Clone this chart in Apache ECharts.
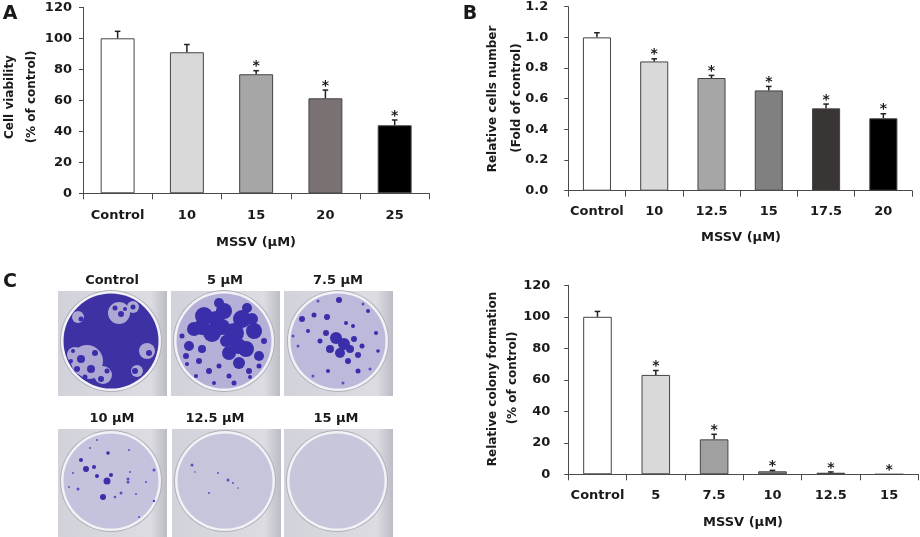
<!DOCTYPE html>
<html><head><meta charset="utf-8">
<script src="https://cdn.jsdelivr.net/npm/echarts@6/dist/echarts.min.js"></script>
<style>html,body{margin:0;padding:0;background:#fff}#c{width:920px;height:537px}</style>
</head><body><div id="c"></div>
<script>
// ---- Panel A: cell viability ----
const catA = ['Control', '10', '15', '20', '25'];
const valA = [100, 91, 76.8, 61.3, 43.9];
const errA = [4.5, 5, 2.3, 5.3, 3.4];
const sigA = [0, 0, 1, 1, 1];
const colA = ['#ffffff', '#d9d9d9', '#a6a6a6', '#7a7272', '#000000'];
const ticksA = { min: 0, max: 120, interval: 20 };

// ---- Panel B: relative cell number ----
const catB = ['Control', '10', '12.5', '15', '17.5', '20'];
const valB = [1.0, 0.843, 0.735, 0.654, 0.537, 0.472];
const errB = [0.03, 0.017, 0.017, 0.026, 0.028, 0.03];
const sigB = [0, 1, 1, 1, 1, 1];
const colB = ['#ffffff', '#d9d9d9', '#a6a6a6', '#808080', '#3a3535', '#000000'];
const ticksB = { min: 0, max: 1.2, interval: 0.2 };

// ---- Panel C: relative colony formation ----
const catC = ['Control', '5', '7.5', '10', '12.5', '15'];
const valC = [100, 63.1, 22.2, 1.9, 1.0, 0];
const errC = [3.4, 2.8, 3.2, 0.6, 0.5, 0];
const sigC = [0, 1, 1, 1, 1, 1];
const colC = ['#ffffff', '#d9d9d9', '#a0a0a0', '#888888', '#333333', '#000000'];
const ticksC = { min: 0, max: 120, interval: 20 };

// ---- Colony photo labels ----
const photoLabels = ['Control', '5 μM', '7.5 μM', '10 μM', '12.5 μM', '15 μM'];

const F = 'DejaVu Sans';
const TXT = '#1a1a1a';
const AX = '#4a4a4a';

function xAx(gi, cats, margin) {
  return {
    type: 'category', gridIndex: gi, data: cats,
    axisLine: { lineStyle: { color: AX, width: 1 } },
    axisTick: { show: true, length: 6, alignWithLabel: false, lineStyle: { color: AX } },
    axisLabel: { fontFamily: F, fontWeight: 'bold', fontSize: 13, color: TXT, margin: margin, interval: 0 },
    splitLine: { show: false }
  };
}
function yAx(gi, t, fmt, margin) {
  return {
    type: 'value', gridIndex: gi, min: t.min, max: t.max, interval: t.interval,
    axisLine: { show: true, lineStyle: { color: AX, width: 1 } },
    axisTick: { show: true, length: 4, lineStyle: { color: AX } },
    axisLabel: { fontFamily: F, fontWeight: 'bold', fontSize: 13, color: TXT, margin: margin, formatter: fmt },
    splitLine: { show: false }
  };
}
function barSeries(gi, vals, cols) {
  return {
    type: 'bar', xAxisIndex: gi, yAxisIndex: gi, barWidth: '49%',
    data: vals.map((v, i) => ({ value: v, itemStyle: { color: cols[i], borderColor: '#444', borderWidth: 1 } })),
    animation: false
  };
}
function errSeries(gi, vals, errs, sigs) {
  return {
    type: 'custom', xAxisIndex: gi, yAxisIndex: gi, z: 5, animation: false,
    data: vals.map((v, i) => [i, v, errs[i], sigs[i]]),
    encode: { x: 0, y: 1 },
    renderItem: function (params, api) {
      const i = api.value(0), v = api.value(1), e = api.value(2), s = api.value(3);
      const base = api.coord([i, v]);
      const top = api.coord([i, v + e]);
      const ch = [];
      if (e > 0) {
        ch.push({ type: 'line', shape: { x1: base[0], y1: base[1], x2: top[0], y2: top[1] }, style: { stroke: '#222', lineWidth: 1.5 } });
        ch.push({ type: 'line', shape: { x1: top[0] - 2.8, y1: top[1], x2: top[0] + 2.8, y2: top[1] }, style: { stroke: '#222', lineWidth: 1.5 } });
      }
      if (s) {
        ch.push({ type: 'text', x: top[0], y: top[1] + 3, style: { text: '*', fontFamily: F, fontWeight: 'bold', fontSize: 14, fill: TXT, align: 'center', verticalAlign: 'bottom', textAlign: 'center', textVerticalAlign: 'bottom' } });
      }
      return { type: 'group', children: ch };
    }
  };
}

function txt(x, y, text, size, rot, family) {
  return {
    type: 'text', x: x, y: y, rotation: rot || 0, silent: true,
    style: { text: text, fontFamily: family || F, fontWeight: 'bold', fontSize: size, fill: TXT,
      align: 'center', verticalAlign: 'middle', textAlign: 'center', textVerticalAlign: 'middle' }
  };
}

// ---- photo panel (decorative drawing of the colony plates) ----
const dishes = [
  { lx: 112, ly: 281, px: 58, py: 291, ph: 105, cx: 111, cy: 341, fill: '#3d31a4',
    patches: [[-24, 20, 16], [-22, 26, 12], [-36, 14, 8], [-8, 34, 9], [8, -28, 11], [22, -34, 6], [36, 10, 8], [-33, -24, 6], [26, 30, 6]],
    dots: [[-30, 18, 4], [-20, 28, 4], [-34, 28, 3], [-16, 12, 3], [10, -27, 3], [4, -33, 2.5], [38, 12, 3], [-10, 38, 3], [-4, 30, 2.5], [24, 30, 3], [-30, -22, 2.5], [-38, 10, 2], [14, -32, 2], [22, -34, 2.5], [-26, 36, 2.5], [-40, 20, 2]] },
  { lx: 225, ly: 281, px: 171, py: 291, ph: 105, cx: 224, cy: 341, fill: '#b4b0d8',
    patches: [],
    dots: [[-20, -25, 9], [0, -30, 8], [18, -22, 9], [30, -10, 8], [10, -8, 10], [-12, -8, 9], [-30, -12, 7], [22, 8, 8], [5, 12, 7], [-5, -38, 5], [23, -33, 5], [-35, 5, 5], [35, 15, 5], [15, 22, 6], [-38, 15, 3], [-25, 20, 3], [-15, 30, 3], [-5, 25, 2.5], [5, 35, 2.5], [25, 30, 3], [40, 0, 3], [-42, -5, 2.5], [26, 36, 2], [-28, 35, 2], [-10, 42, 2], [10, 42, 2.5], [35, 25, 2.5], [-37, 23, 2], [-22, 8, 4], [2, 0, 6], [-22, -14, 8], [28, -22, 6], [-8, -22, 8], [14, 5, 8], [-2, -14, 8]] },
  { lx: 338, ly: 281, px: 284, py: 291, ph: 105, cx: 338, cy: 341, fill: '#bcb9db',
    patches: [],
    dots: [[-2, -3, 6], [6, 3, 6], [12, 8, 4], [-8, 8, 4], [2, 12, 5], [16, -2, 3], [-12, -8, 3], [20, 14, 3], [10, 20, 3], [-18, 0, 2.5], [24, 5, 2.5], [-36, -22, 3], [-11, -24, 3], [1, -41, 3], [-30, -10, 2], [30, -30, 2], [38, -8, 2], [40, 10, 1.8], [-40, 5, 1.5], [-45, -5, 1.5], [20, 30, 2.5], [-10, 30, 2], [32, 28, 1.5], [-25, 35, 1.5], [5, 42, 1.5], [25, -37, 1.5], [-20, -40, 1.5], [15, -15, 2], [-24, -26, 2.5], [8, -18, 2]] },
  { lx: 112, ly: 419, px: 58, py: 429, ph: 108, cx: 111, cy: 481, fill: '#c4c2dc',
    patches: [],
    dots: [[-25, -12, 3], [-4, 0, 3.5], [-8, 16, 3], [-30, -21, 2], [-17, -14, 2], [-14, -5, 2], [-3, -28, 1.8], [0, -6, 2], [17, 1, 1.5], [17, -2, 1.5], [10, 12, 1.5], [4, 16, 1.3], [43, -11, 1.5], [43, 20, 1.3], [-33, 8, 1.5], [-42, 6, 1], [-21, -33, 1], [-14, -41, 1], [18, -31, 1], [19, -9, 1], [35, 1, 1], [25, 13, 1], [28, 36, 1], [-38, -8, 1]] },
  { lx: 215, ly: 419, px: 172, py: 429, ph: 108, cx: 225, cy: 481, fill: '#c6c5db',
    patches: [],
    dots: [[-33, -16, 1.5], [-7, -8, 1], [3, -1, 1.5], [8, 2, 1], [-16, 12, 1], [13, 7, 0.8], [-30, -9, 0.8]] },
  { lx: 336, ly: 419, px: 284, py: 429, ph: 108, cx: 337, cy: 481, fill: '#c7c6da',
    patches: [], dots: [] }
];

const graphics = [];
graphics.push(txt(10, 14, 'A', 19));
graphics.push(txt(470, 14, 'B', 19));
graphics.push(txt(10, 282, 'C', 19));
// axis names
graphics.push(txt(10, 97, 'Cell viability', 12, Math.PI / 2));
graphics.push(txt(32, 97, '(% of control)', 12, Math.PI / 2));
graphics.push(txt(256, 243, 'MSSV (μM)', 13));
graphics.push(txt(493, 99, 'Relative cells number', 12, Math.PI / 2));
graphics.push(txt(517, 98, '(Fold of control)', 12, Math.PI / 2));
graphics.push(txt(741, 238, 'MSSV (μM)', 13));
graphics.push(txt(493, 379, 'Relative colony formation', 12, Math.PI / 2));
graphics.push(txt(513, 378, '(% of control)', 12, Math.PI / 2));
graphics.push(txt(743, 523, 'MSSV (μM)', 13));

dishes.forEach((d, k) => {
  graphics.push(txt(d.lx, d.ly, photoLabels[k], 13));
  graphics.push({ type: 'rect', silent: true, shape: { x: d.px, y: d.py, width: 109, height: d.ph },
    style: { fill: new echarts.graphic.LinearGradient(0, 0, 1, 0, [{ offset: 0, color: '#d2d2da' }, { offset: 0.85, color: '#dcdce2' }, { offset: 1, color: '#bcbcc6' }]) } });
  graphics.push({ type: 'circle', silent: true, shape: { cx: d.cx, cy: d.cy, r: 51 }, style: { fill: '#b0b0bc' } });
  graphics.push({ type: 'circle', silent: true, shape: { cx: d.cx, cy: d.cy, r: 50 }, style: { fill: '#f2f2f6' } });
  graphics.push({ type: 'circle', silent: true, shape: { cx: d.cx, cy: d.cy, r: 47.5 }, style: { fill: d.fill } });
  d.patches.forEach(p => graphics.push({ type: 'circle', silent: true, shape: { cx: d.cx + p[0], cy: d.cy + p[1], r: p[2] }, style: { fill: '#aca8d3' } }));
  d.dots.forEach(p => graphics.push({ type: 'circle', silent: true, shape: { cx: d.cx + p[0], cy: d.cy + p[1], r: p[2] }, style: { fill: p[2] < 1.6 ? '#5a4fc4' : '#3a2eaa' } }));
});

const chart = echarts.init(document.getElementById('c'), null, { renderer: 'canvas' });
chart.setOption({
  backgroundColor: '#ffffff',
  animation: false,
  grid: [
    { left: 83, top: 7.3, width: 346.3, height: 186 },
    { left: 568.3, top: 6.7, width: 343.7, height: 184 },
    { left: 568.3, top: 285.3, width: 350, height: 189 }
  ],
  xAxis: [xAx(0, catA, 15.5), xAx(1, catB, 14), xAx(2, catC, 14.5)],
  yAxis: [
    yAx(0, ticksA, v => String(v), 11),
    yAx(1, ticksB, v => v.toFixed(1), 20),
    yAx(2, ticksC, v => String(v), 18)
  ],
  series: [
    barSeries(0, valA, colA), errSeries(0, valA, errA, sigA),
    barSeries(1, valB, colB), errSeries(1, valB, errB, sigB),
    barSeries(2, valC, colC), errSeries(2, valC, errC, sigC)
  ],
  graphic: { elements: graphics }
});
</script>
</body></html>
